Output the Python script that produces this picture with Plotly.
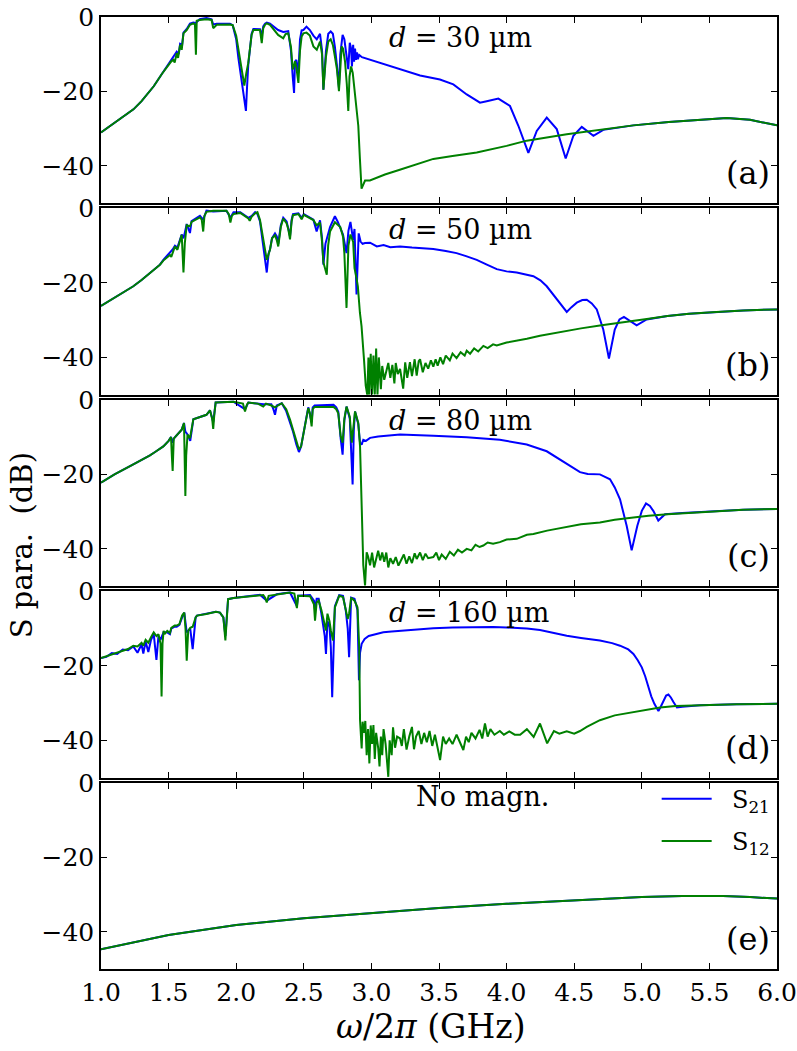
import plotly.graph_objects as go
from plotly.subplots import make_subplots

# ---------------- data: (frequency GHz, dB) ----------------
A_S21 = [(1.00,-31.0),(1.10,-28.4),(1.20,-25.8),(1.24,-24.8),(1.30,-22.6),(1.39,-18.6),(1.45,-15.3),(1.49,-13.2),
 (1.52,-11.6),(1.545,-10.0),(1.56,-9.3),(1.575,-10.0),(1.585,-7.2),(1.60,-7.5),(1.61,-4.2),(1.634,-3.2),(1.658,-1.8),
 (1.683,-1.5),(1.70,-1.6),(1.73,-0.6),(1.78,-0.3),(1.818,-0.6),(1.83,-2.0),(1.856,-1.8),(1.954,-1.8),(1.974,-2.2),
 (2.00,-6.0),(2.016,-11.0),(2.04,-17.0),(2.06,-21.5),(2.072,-25.2),(2.08,-19.0),(2.089,-13.0),(2.114,-4.5),(2.127,-3.2),
 (2.176,-3.3),(2.189,-5.0),(2.20,-2.5),(2.213,-1.8),(2.226,-1.5),(2.25,-1.8),(2.31,-3.5),(2.348,-4.0),(2.385,-3.8),
 (2.405,-9.0),(2.418,-16.0),(2.428,-20.4),(2.435,-12.0),(2.445,-11.5),(2.46,-15.0),(2.472,-6.0),(2.484,-3.6),(2.497,-3.5),
 (2.52,-2.6),(2.545,-3.5),(2.571,-5.0),(2.596,-6.0),(2.62,-4.5),(2.635,-9.0),(2.645,-19.5),(2.664,-9.0),(2.681,-4.5),
 (2.699,-3.9),(2.715,-4.5),(2.73,-8.0),(2.745,-13.0),(2.76,-19.0),(2.77,-10.0),(2.787,-4.8),(2.80,-6.0),(2.815,-10.5),
 (2.829,-14.0),(2.84,-6.9),(2.85,-8.5),(2.856,-13.3),(2.865,-7.5),(2.872,-12.0),(2.879,-8.5),(2.886,-11.5),(2.893,-9.5),
 (2.90,-11.3),(2.91,-10.2),(2.93,-10.8),(2.99,-11.5),(3.10,-12.8),(3.21,-14.1),(3.36,-15.7),(3.507,-16.8),(3.606,-18.1),
 (3.705,-20.8),(3.803,-23.0),(3.853,-22.6),(3.939,-21.9),(4.025,-23.9),(4.087,-29.2),(4.161,-36.5),(4.223,-30.6),
 (4.297,-27.0),(4.371,-30.1),(4.437,-38.0),(4.494,-31.9),(4.556,-29.5),(4.642,-31.9),(4.715,-30.3),(4.79,-29.9),
 (4.937,-29.1),(5.20,-28.2),(5.43,-27.5),(5.628,-27.1),(5.80,-27.6),(6.00,-29.1)]
A_S12 = [(1.00,-31.0),(1.10,-28.4),(1.20,-25.8),(1.24,-24.8),(1.30,-22.6),(1.39,-18.6),(1.45,-15.3),(1.49,-13.2),
 (1.52,-11.9),(1.535,-11.5),(1.545,-12.2),(1.56,-9.7),(1.57,-11.0),(1.585,-7.5),(1.597,-8.8),(1.61,-4.4),(1.634,-3.5),
 (1.658,-2.1),(1.683,-1.7),(1.695,-2.0),(1.702,-10.1),(1.708,-1.0),(1.73,-0.8),(1.78,-0.6),(1.818,-0.8),(1.83,-3.0),
 (1.856,-2.1),(1.954,-2.0),(1.974,-2.2),(2.00,-5.0),(2.016,-8.8),(2.04,-14.1),(2.06,-18.4),(2.075,-15.0),(2.089,-12.4),
 (2.114,-4.8),(2.127,-3.5),(2.176,-3.5),(2.189,-7.0),(2.20,-3.0),(2.213,-2.1),(2.226,-1.7),(2.25,-2.1),(2.31,-4.8),
 (2.348,-5.7),(2.365,-4.6),(2.385,-4.4),(2.405,-8.0),(2.418,-14.1),(2.428,-13.0),(2.435,-11.9),(2.445,-13.5),(2.46,-17.7),
 (2.472,-9.0),(2.484,-5.2),(2.497,-4.4),(2.52,-4.2),(2.545,-5.0),(2.571,-7.9),(2.596,-8.8),(2.62,-6.6),(2.635,-10.0),
 (2.645,-19.5),(2.664,-10.6),(2.681,-6.6),(2.699,-6.0),(2.715,-7.5),(2.73,-10.6),(2.745,-14.0),(2.76,-19.9),(2.77,-12.0),
 (2.78,-7.9),(2.79,-8.5),(2.805,-12.0),(2.818,-18.0),(2.829,-25.2),(2.838,-16.0),(2.85,-13.3),(2.862,-15.0),(2.879,-20.8),
 (2.89,-24.5),(2.903,-29.2),(2.915,-38.1),(2.927,-46.1),(2.94,-45.0),(2.953,-43.9),(2.989,-43.9),(3.10,-42.3),(3.21,-41.0),
 (3.458,-38.1),(3.60,-37.3),(3.779,-36.4),(4.00,-34.6),(4.149,-33.2),(4.445,-31.5),(4.70,-30.3),(4.937,-29.1),(5.20,-28.2),
 (5.43,-27.5),(5.628,-27.1),(5.80,-27.6),(6.00,-29.1)]

B_S21 = [(1.00,-26.2),(1.10,-24.0),(1.239,-20.9),(1.30,-19.2),(1.362,-17.3),(1.436,-15.1),(1.461,-13.8),(1.51,-12.0),
 (1.53,-11.0),(1.547,-10.0),(1.565,-10.5),(1.597,-7.0),(1.61,-8.0),(1.62,-6.5),(1.634,-4.2),(1.658,-6.6),(1.67,-3.4),
 (1.732,-2.0),(1.756,-3.0),(1.78,-0.6),(1.83,-0.8),(1.928,-0.6),(1.957,-2.5),(1.98,-1.0),(2.03,-1.0),(2.09,-2.5),
 (2.115,-2.0),(2.14,-1.0),(2.157,-1.5),(2.176,-3.5),(2.20,-9.5),(2.226,-17.2),(2.24,-12.0),(2.25,-11.0),(2.265,-8.0),
 (2.287,-6.7),(2.30,-7.5),(2.311,-9.5),(2.33,-4.5),(2.348,-2.5),(2.373,-3.5),(2.398,-7.5),(2.41,-3.0),(2.42,-1.5),
 (2.46,-1.3),(2.484,-2.5),(2.50,-1.5),(2.571,-3.0),(2.595,-6.2),(2.61,-4.0),(2.62,-3.2),(2.635,-8.0),(2.645,-15.1),
 (2.66,-9.5),(2.694,-5.0),(2.73,-2.1),(2.75,-3.5),(2.79,-7.0),(2.805,-10.0),(2.816,-12.0),(2.83,-6.0),(2.845,-3.6),
 (2.865,-8.5),(2.875,-5.5),(2.89,-23.1),(2.906,-6.7),(2.92,-8.9),(2.935,-9.5),(2.953,-9.3),(2.99,-9.2),(3.04,-10.2),
 (3.09,-9.8),(3.14,-10.4),(3.212,-10.2),(3.30,-10.5),(3.458,-10.9),(3.55,-11.4),(3.63,-12.0),(3.70,-12.8),(3.779,-13.8),
 (3.85,-15.0),(3.927,-16.3),(4.00,-16.9),(4.075,-17.2),(4.198,-18.2),(4.25,-19.3),(4.297,-20.9),(4.371,-24.5),
 (4.445,-27.8),(4.48,-26.5),(4.519,-25.3),(4.56,-24.6),(4.593,-24.5),(4.63,-25.5),(4.667,-27.1),(4.715,-32.5),
 (4.757,-40.3),(4.80,-32.5),(4.835,-29.8),(4.868,-29.1),(4.91,-30.2),(4.962,-31.4),(5.036,-29.8),(5.19,-28.9),
 (5.35,-28.3),(5.55,-27.8),(5.75,-27.4),(6.00,-27.1)]
B_S12 = [(1.00,-26.2),(1.10,-24.0),(1.239,-20.9),(1.30,-19.2),(1.362,-17.3),(1.436,-15.1),(1.461,-14.0),(1.51,-12.5),
 (1.52,-13.0),(1.547,-10.2),(1.565,-11.1),(1.597,-7.1),(1.61,-17.2),(1.62,-9.3),(1.634,-4.5),(1.658,-4.8),(1.67,-3.6),
 (1.732,-2.4),(1.745,-3.0),(1.756,-6.2),(1.765,-2.0),(1.78,-0.9),(1.83,-0.6),(1.928,-0.6),(1.945,-1.5),(1.957,-3.8),
 (1.968,-2.0),(1.98,-1.5),(2.03,-1.2),(2.09,-2.7),(2.10,-3.3),(2.115,-2.2),(2.14,-1.3),(2.157,-1.0),(2.176,-3.1),
 (2.20,-8.5),(2.22,-12.5),(2.226,-13.8),(2.25,-11.1),(2.265,-8.0),(2.287,-7.2),(2.30,-8.5),(2.311,-10.2),(2.33,-5.0),
 (2.348,-2.7),(2.373,-4.0),(2.385,-5.5),(2.398,-8.3),(2.41,-3.5),(2.42,-1.8),(2.46,-1.5),(2.484,-2.9),(2.50,-1.7),
 (2.571,-3.1),(2.595,-4.5),(2.62,-3.8),(2.635,-9.0),(2.645,-14.5),(2.67,-17.8),(2.68,-10.0),(2.694,-6.2),(2.73,-3.7),
 (2.77,-5.0),(2.79,-7.6),(2.80,-12.0),(2.816,-26.7),(2.83,-10.0),(2.845,-7.0),(2.865,-9.0),(2.875,-16.0),(2.89,-18.7),
 (2.90,-21.0),(2.915,-28.0),(2.927,-31.6),(2.945,-40.4),(2.958,-47.6),(2.97,-50.2),(2.978,-40.0),(2.985,-50.0),
 (2.995,-39.0),(3.005,-50.0),(3.015,-39.5),(3.025,-50.0),(3.035,-37.6),(3.045,-50.0),(3.055,-40.0),(3.07,-48.5),
 (3.08,-42.3),(3.095,-46.0),(3.11,-43.9),(3.125,-41.5),(3.14,-45.5),(3.155,-42.0),(3.17,-47.0),(3.18,-41.5),
 (3.195,-44.5),(3.212,-43.1),(3.235,-48.4),(3.25,-41.3),(3.265,-45.5),(3.285,-41.3),(3.30,-45.0),(3.32,-40.5),
 (3.335,-44.9),(3.35,-41.0),(3.36,-40.5),(3.38,-44.0),(3.40,-41.5),(3.42,-43.0),(3.44,-40.8),(3.458,-42.5),
 (3.475,-40.5),(3.49,-42.2),(3.51,-40.0),(3.53,-41.8),(3.55,-39.5),(3.58,-40.8),(3.60,-39.0),(3.63,-40.2),(3.66,-38.6),
 (3.69,-39.5),(3.705,-38.2),(3.73,-39.0),(3.76,-37.6),(3.79,-38.4),(3.828,-36.9),(3.86,-37.5),(3.90,-36.5),(3.927,-36.8),
 (4.00,-36.0),(4.075,-35.6),(4.15,-35.0),(4.247,-34.2),(4.35,-33.5),(4.445,-32.9),(4.55,-32.2),(4.69,-31.4),(4.80,-30.8),
 (4.94,-30.2),(5.05,-29.6),(5.19,-28.9),(5.35,-28.3),(5.55,-27.8),(5.75,-27.4),(6.00,-27.1)]

C_S21 = [(1.00,-22.2),(1.10,-20.0),(1.239,-17.3),(1.30,-16.2),(1.362,-14.9),(1.40,-14.0),(1.461,-12.5),(1.50,-11.0),
 (1.518,-10.0),(1.53,-11.5),(1.538,-10.4),(1.56,-9.5),(1.597,-8.0),(1.614,-6.2),(1.624,-8.5),(1.64,-9.3),(1.66,-11.0),
 (1.683,-5.2),(1.78,-4.0),(1.806,-2.8),(1.83,-6.0),(1.848,-0.7),(1.979,-0.5),(2.065,-2.5),(2.09,-0.7),(2.20,-1.2),
 (2.26,-1.2),(2.275,-2.5),(2.287,-4.0),(2.30,-1.5),(2.337,-0.9),(2.37,-3.0),(2.398,-6.0),(2.42,-8.5),(2.445,-12.0),
 (2.464,-14.0),(2.48,-12.5),(2.496,-9.0),(2.533,-2.0),(2.558,-6.0),(2.566,-2.0),(2.58,-1.5),(2.72,-1.3),(2.74,-2.0),
 (2.755,-3.2),(2.773,-10.5),(2.787,-14.7),(2.80,-5.5),(2.816,-1.8),(2.84,-5.0),(2.861,-22.7),(2.87,-8.0),(2.879,-3.1),
 (2.903,-6.5),(2.916,-11.5),(2.928,-12.0),(2.94,-10.7),(2.96,-11.0),(2.99,-10.2),(3.05,-9.8),(3.10,-9.6),(3.212,-9.3),
 (3.458,-9.6),(3.705,-10.0),(3.95,-10.7),(4.149,-12.0),(4.297,-13.8),(4.37,-15.5),(4.445,-17.3),(4.543,-19.4),
 (4.60,-19.9),(4.69,-20.0),(4.765,-21.3),(4.80,-23.5),(4.839,-26.7),(4.888,-33.8),(4.925,-40.4),(4.967,-33.8),
 (5.00,-29.8),(5.031,-27.8),(5.06,-28.5),(5.085,-29.8),(5.122,-32.4),(5.172,-30.7),(5.30,-30.4),(5.40,-30.2),
 (5.55,-29.8),(5.75,-29.5),(6.00,-29.3)]
C_S12 = [(1.00,-22.2),(1.10,-20.0),(1.239,-17.3),(1.30,-16.2),(1.362,-14.9),(1.40,-14.0),(1.461,-12.5),(1.50,-11.0),
 (1.518,-10.0),(1.524,-15.0),(1.53,-19.1),(1.538,-10.4),(1.56,-9.5),(1.597,-8.0),(1.614,-6.2),(1.62,-15.0),(1.624,-25.8),
 (1.63,-15.0),(1.64,-9.3),(1.658,-10.3),(1.683,-5.2),(1.78,-4.0),(1.806,-2.8),(1.822,-5.0),(1.83,-7.8),(1.838,-4.0),
 (1.848,-0.7),(1.979,-0.5),(2.05,-1.0),(2.065,-3.1),(2.08,-1.2),(2.09,-0.7),(2.16,-1.0),(2.20,-1.8),(2.22,-1.0),
 (2.26,-1.5),(2.287,-2.0),(2.337,-0.9),(2.37,-2.5),(2.398,-5.3),(2.42,-7.8),(2.445,-11.0),(2.464,-13.3),(2.48,-12.5),
 (2.496,-9.5),(2.533,-2.2),(2.545,-3.5),(2.558,-7.1),(2.566,-2.5),(2.58,-1.9),(2.72,-1.9),(2.74,-2.5),(2.755,-3.6),
 (2.773,-9.8),(2.787,-11.5),(2.80,-5.0),(2.816,-1.8),(2.84,-4.5),(2.855,-11.5),(2.865,-7.0),(2.879,-3.1),(2.903,-6.2),
 (2.916,-12.5),(2.928,-28.4),(2.94,-44.4),(2.953,-49.8),(2.965,-40.9),(2.975,-42.0),(2.99,-44.4),(3.005,-41.0),
 (3.02,-45.0),(3.05,-40.5),(3.065,-43.1),(3.08,-41.0),(3.095,-43.5),(3.11,-41.0),(3.125,-45.0),(3.14,-42.5),(3.16,-44.0),
 (3.18,-42.2),(3.20,-44.5),(3.212,-43.6),(3.24,-41.5),(3.26,-44.0),(3.28,-42.0),(3.30,-43.8),(3.32,-41.2),(3.335,-42.7),
 (3.36,-41.0),(3.38,-43.0),(3.40,-41.3),(3.42,-42.5),(3.458,-42.2),(3.48,-41.0),(3.50,-43.0),(3.52,-41.5),(3.55,-42.7),
 (3.58,-40.8),(3.61,-41.8),(3.64,-40.2),(3.67,-41.0),(3.705,-40.0),(3.74,-40.4),(3.77,-38.9),(3.80,-39.5),(3.828,-39.1),
 (3.86,-38.3),(3.90,-38.6),(3.95,-38.2),(4.00,-37.5),(4.075,-37.3),(4.15,-36.2),(4.198,-36.0),(4.30,-35.1),(4.37,-34.6),
 (4.445,-34.2),(4.55,-33.4),(4.69,-32.9),(4.80,-32.2),(4.938,-31.6),(5.05,-31.1),(5.19,-30.7),(5.40,-30.2),(5.55,-29.8),
 (5.75,-29.5),(6.00,-29.3)]

D_S21 = [(1.00,-17.9),(1.04,-17.6),(1.08,-16.6),(1.12,-16.8),(1.16,-15.6),(1.20,-15.8),(1.239,-14.8),(1.27,-16.5),
 (1.30,-14.2),(1.313,-16.7),(1.33,-13.5),(1.35,-16.3),(1.37,-13.0),(1.39,-11.5),(1.41,-18.4),(1.425,-12.0),(1.44,-13.0),
 (1.463,-11.0),(1.49,-11.0),(1.51,-11.5),(1.52,-10.0),(1.545,-9.5),(1.56,-9.5),(1.58,-9.0),(1.60,-7.0),(1.616,-5.7),
 (1.634,-11.0),(1.645,-10.5),(1.66,-10.0),(1.678,-15.5),(1.69,-10.0),(1.70,-7.0),(1.71,-6.5),(1.78,-6.1),(1.85,-5.5),
 (1.88,-5.7),(1.905,-7.0),(1.92,-12.0),(1.93,-6.0),(1.94,-2.1),(1.98,-1.8),(2.10,-1.3),(2.176,-0.9),(2.226,-2.5),
 (2.30,-0.8),(2.398,-0.3),(2.449,-4.0),(2.458,-1.2),(2.546,-1.0),(2.575,-2.5),(2.583,-5.0),(2.595,-2.0),(2.61,-2.0),
 (2.63,-6.0),(2.655,-12.0),(2.664,-16.8),(2.675,-8.0),(2.69,-9.5),(2.70,-15.0),(2.71,-28.4),(2.72,-12.0),(2.73,-4.0),
 (2.762,-1.0),(2.79,-1.2),(2.81,-5.0),(2.825,-10.0),(2.835,-17.7),(2.845,-8.0),(2.85,-1.7),(2.875,-2.0),(2.897,-5.0),
 (2.908,-23.9),(2.916,-16.5),(2.928,-14.1),(2.95,-12.8),(2.98,-12.0),(3.03,-11.5),(3.088,-11.0),(3.15,-10.8),
 (3.21,-10.6),(3.30,-10.3),(3.458,-9.9),(3.60,-9.7),(3.705,-9.6),(3.80,-9.5),(3.902,-9.6),(4.00,-9.7),(4.075,-9.8),
 (4.15,-10.0),(4.247,-10.4),(4.35,-11.2),(4.445,-11.9),(4.55,-12.5),(4.69,-13.2),(4.78,-13.9),(4.839,-14.6),(4.90,-15.6),
 (4.938,-16.8),(4.97,-18.5),(5.00,-20.4),(5.025,-22.8),(5.049,-25.7),(5.07,-28.2),(5.093,-30.2),(5.123,-32.1),
 (5.14,-31.0),(5.16,-29.7),(5.18,-28.0),(5.197,-27.7),(5.215,-28.5),(5.234,-29.7),(5.26,-31.2),(5.30,-31.0),
 (5.43,-30.6),(5.70,-30.3),(6.00,-30.2)]
D_S12 = [(1.00,-17.9),(1.04,-17.4),(1.08,-16.8),(1.12,-16.4),(1.16,-15.8),(1.20,-15.5),(1.239,-14.6),(1.27,-14.8),
 (1.30,-13.8),(1.313,-14.6),(1.33,-13.0),(1.35,-13.8),(1.37,-12.3),(1.39,-11.0),(1.41,-12.0),(1.425,-11.5),(1.44,-14.0),
 (1.448,-28.2),(1.455,-14.0),(1.463,-10.6),(1.47,-11.5),(1.49,-10.6),(1.51,-11.2),(1.52,-9.8),(1.545,-9.2),(1.56,-9.2),
 (1.58,-8.8),(1.60,-6.5),(1.616,-5.7),(1.625,-10.0),(1.634,-18.6),(1.645,-10.6),(1.66,-9.8),(1.678,-9.5),(1.70,-7.0),
 (1.71,-6.5),(1.78,-6.1),(1.85,-5.5),(1.88,-5.7),(1.905,-7.0),(1.92,-13.2),(1.93,-6.0),(1.94,-2.1),(1.98,-1.8),
 (2.10,-1.3),(2.176,-0.9),(2.20,-1.0),(2.215,-1.8),(2.226,-3.0),(2.24,-1.2),(2.30,-0.8),(2.398,-0.3),(2.43,-0.6),
 (2.449,-4.5),(2.458,-1.2),(2.50,-1.2),(2.546,-1.3),(2.575,-3.5),(2.583,-7.9),(2.595,-3.0),(2.61,-2.5),(2.63,-5.0),
 (2.655,-8.8),(2.664,-10.5),(2.675,-6.0),(2.69,-8.0),(2.70,-10.5),(2.716,-13.2),(2.73,-4.3),(2.762,-1.2),(2.79,-1.5),
 (2.81,-5.2),(2.825,-7.4),(2.835,-6.0),(2.85,-1.7),(2.875,-2.5),(2.897,-4.3),(2.91,-15.0),(2.916,-34.6),(2.928,-42.2),
 (2.935,-35.0),(2.945,-38.0),(2.955,-34.8),(2.965,-44.0),(2.975,-37.0),(2.985,-46.2),(2.995,-36.0),(3.005,-41.0),
 (3.015,-35.9),(3.025,-45.0),(3.035,-38.0),(3.05,-42.0),(3.06,-47.0),(3.07,-39.0),(3.08,-44.0),(3.09,-37.0),(3.105,-41.0),
 (3.125,-49.8),(3.135,-40.0),(3.15,-44.0),(3.16,-36.5),(3.175,-42.0),(3.19,-39.0),(3.212,-39.5),(3.225,-41.5),
 (3.24,-37.0),(3.26,-42.5),(3.28,-39.0),(3.30,-36.4),(3.315,-42.4),(3.33,-39.0),(3.35,-37.5),(3.37,-41.0),(3.39,-38.0),
 (3.41,-40.5),(3.43,-37.5),(3.45,-41.5),(3.47,-38.5),(3.49,-42.0),(3.508,-45.3),(3.53,-39.0),(3.55,-41.0),(3.575,-39.5),
 (3.60,-41.0),(3.63,-38.5),(3.655,-40.5),(3.68,-42.6),(3.70,-39.0),(3.72,-40.5),(3.74,-38.0),(3.77,-39.5),(3.80,-37.2),
 (3.82,-39.5),(3.84,-35.5),(3.86,-39.0),(3.88,-37.0),(3.91,-38.5),(3.95,-37.5),(3.98,-38.5),(4.02,-37.6),(4.06,-38.5),
 (4.10,-38.5),(4.15,-37.0),(4.20,-39.1),(4.247,-35.5),(4.30,-40.8),(4.35,-37.5),(4.39,-38.2),(4.445,-37.6),(4.50,-38.2),
 (4.543,-37.5),(4.593,-36.4),(4.69,-34.6),(4.80,-33.3),(4.938,-32.4),(5.05,-31.6),(5.135,-31.2),(5.25,-30.8),
 (5.43,-30.6),(5.70,-30.3),(6.00,-30.2)]

E_S21 = [(1.00,-44.7),(1.25,-42.9),(1.50,-40.9),(1.75,-39.5),(2.00,-38.2),(2.50,-36.4),(3.00,-34.9),(3.50,-33.6),
 (4.00,-32.5),(4.50,-31.5),(5.00,-30.7),(5.30,-30.4),(5.60,-30.4),(5.80,-30.7),(6.00,-31.1)]
E_S12 = [(1.00,-44.7),(1.25,-42.9),(1.50,-40.9),(1.75,-39.5),(2.00,-38.2),(2.50,-36.4),(3.00,-34.9),(3.50,-33.6),
 (4.00,-32.5),(4.50,-31.5),(5.00,-30.7),(5.30,-30.4),(5.60,-30.4),(5.80,-30.7),(6.00,-31.1)]

PANEL_TEXT = ["<i>d</i> = 30 µm", "<i>d</i> = 50 µm", "<i>d</i> = 80 µm", "<i>d</i> = 160 µm", "No magn."]
PANEL_LABEL = ["(a)", "(b)", "(c)", "(d)", "(e)"]
X_TICKS = [1.0, 1.5, 2.0, 2.5, 3.0, 3.5, 4.0, 4.5, 5.0, 5.5, 6.0]
Y_TICKS = [0, -20, -40]

SERIES = [(A_S21, A_S12), (B_S21, B_S12), (C_S21, C_S12), (D_S21, D_S12), (E_S21, E_S12)]

FONT = "DejaVu Serif"
BLUE = "#0000ff"
GREEN = "#008000"
NB = "\u00a0"

fig = make_subplots(rows=5, cols=1, shared_xaxes=True, vertical_spacing=0.0055)

for i, (s21, s12) in enumerate(SERIES):
    r = i + 1
    last = (r == 5)
    fig.add_trace(go.Scatter(x=[p[0] for p in s21], y=[p[1] for p in s21], mode="lines",
                             line=dict(color=BLUE, width=2), name=NB * 2 + "S<sub>21</sub>",
                             showlegend=last, legendgroup="s21"), row=r, col=1)
    fig.add_trace(go.Scatter(x=[p[0] for p in s12], y=[p[1] for p in s12], mode="lines",
                             line=dict(color=GREEN, width=2), name=NB * 2 + "S<sub>12</sub>",
                             showlegend=last, legendgroup="s12"), row=r, col=1)
    yref = "y" if r == 1 else f"y{r}"
    if i < 4:
        fig.add_annotation(x=0.423, xref="paper", xanchor="left", y=-5.6, yref=yref, yanchor="middle",
                           text=PANEL_TEXT[i], showarrow=False, font=dict(family=FONT, size=27, color="black"))
    else:
        fig.add_annotation(x=0.565, xref="paper", xanchor="center", y=-3.8, yref=yref, yanchor="middle",
                           text=PANEL_TEXT[i], showarrow=False, font=dict(family=FONT, size=27, color="black"))
    fig.add_annotation(x=0.993, xref="paper", xanchor="right", y=-42.0, yref=yref, yanchor="middle",
                       text=PANEL_LABEL[i], showarrow=False, font=dict(family=FONT, size=32, color="black"))

fig.update_xaxes(range=[1.0, 6.0], tickvals=X_TICKS, ticktext=[f"{v:.1f}" for v in X_TICKS],
                 ticks="inside", ticklen=6, tickwidth=1, tickcolor="black", automargin=False,
                 showline=True, linecolor="black", linewidth=1.5, mirror="allticks",
                 showgrid=False, zeroline=False, tickfont=dict(family=FONT, size=25, color="black"))
fig.update_yaxes(range=[-50, 0], tickvals=Y_TICKS, ticks="inside", ticklen=6, tickwidth=1, tickcolor="black",
                 automargin=False, ticklabeloverflow="allow",
                 showline=True, linecolor="black", linewidth=1.5, mirror="allticks",
                 showgrid=False, zeroline=False, tickfont=dict(family=FONT, size=25, color="black"))

fig.add_annotation(x=-0.117, xref="paper", y=0.445, yref="paper", text="S para.  (dB)", textangle=-90,
                   showarrow=False, xanchor="center", yanchor="middle",
                   font=dict(family=FONT, size=29, color="black"))
fig.add_annotation(x=0.488, xref="paper", y=-0.06, yref="paper", text="<i>ω</i>/2<i>π</i> (GHz)",
                   showarrow=False, xanchor="center", yanchor="middle",
                   font=dict(family=FONT, size=33, color="black"))

fig.update_layout(width=797, height=1051, margin=dict(l=101, r=20, t=17, b=82),
                  paper_bgcolor="white", plot_bgcolor="white",
                  legend=dict(x=0.822, y=0.202, xanchor="left", yanchor="top", bgcolor="rgba(0,0,0,0)",
                              borderwidth=0, font=dict(family=FONT, size=24, color="black"),
                              itemwidth=50, tracegroupgap=8, traceorder="grouped"))

# remove the browser's default 8 px page margin so the figure fills the window exactly
fig.write_html("out.html", config={"displayModeBar": False},
               post_script="document.body.style.margin='0';")
